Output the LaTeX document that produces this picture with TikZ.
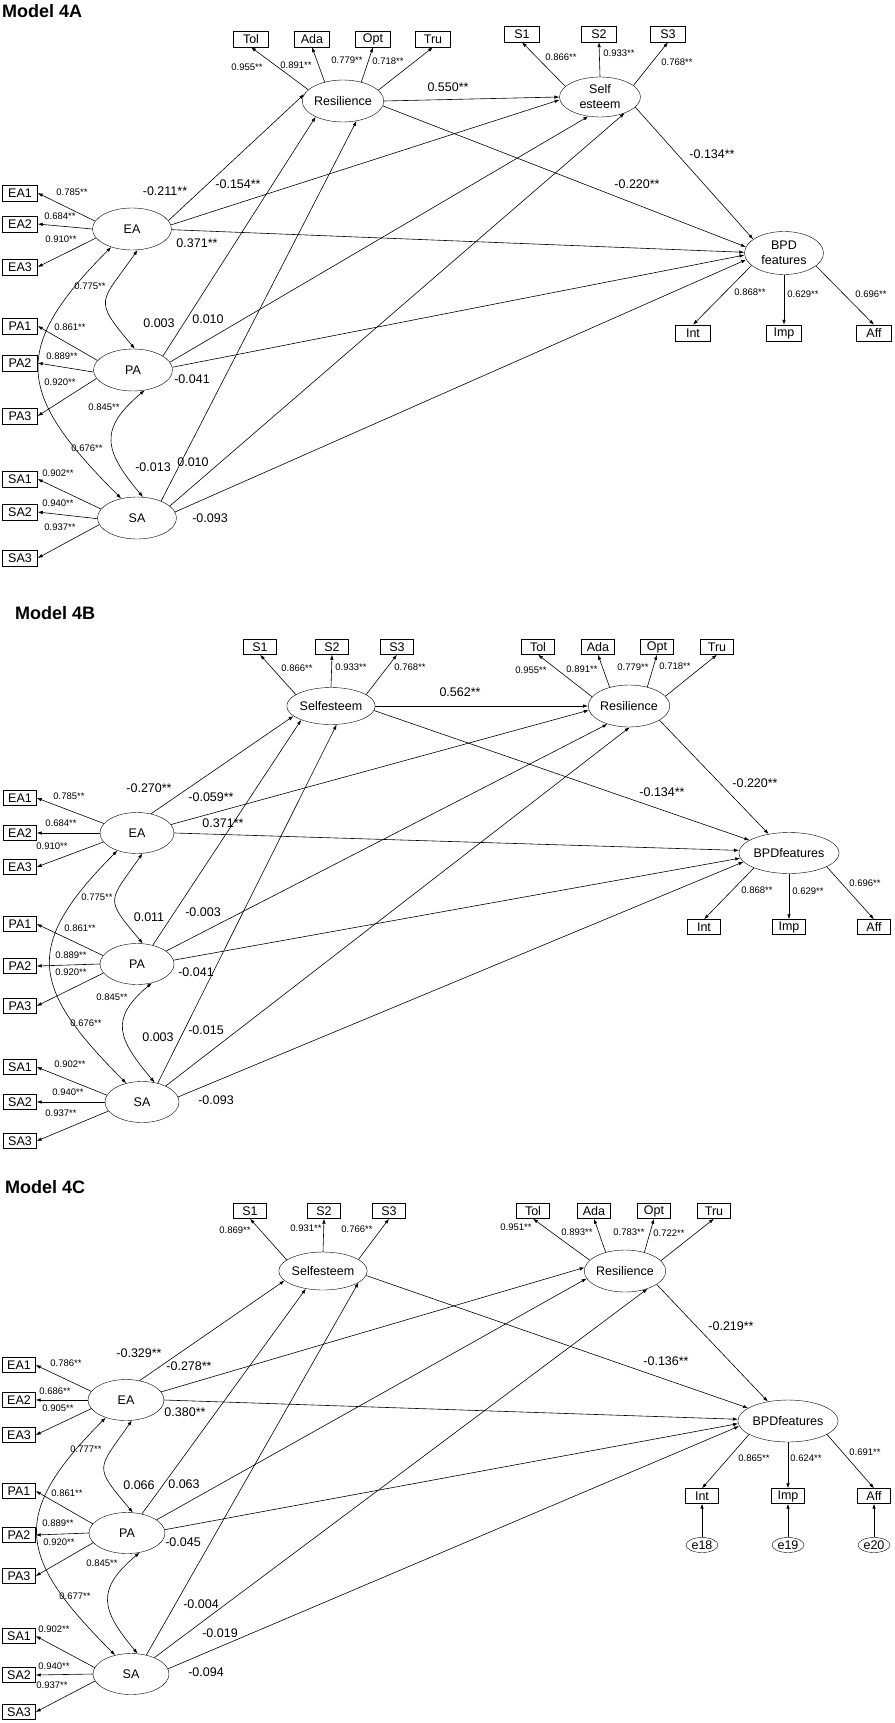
\documentclass[tikz,border=0pt]{standalone}
\usepackage{fontspec}
\setmainfont{Liberation Sans}
\usetikzlibrary{arrows.meta,shapes.geometric,positioning}

\tikzset{
  lat/.style={ellipse, draw, inner sep=0pt, minimum width=76pt, minimum height=41pt, align=center, font=\fontsize{12.5}{15}\selectfont},
  obs/.style={rectangle, draw, inner sep=0pt, minimum width=33pt, minimum height=15pt, font=\fontsize{12.5}{13}\selectfont},
  err/.style={ellipse, draw, inner sep=0pt, minimum width=32pt, minimum height=15pt, font=\fontsize{12.5}{13}\selectfont},
  coef/.style={inner sep=0pt, font=\fontsize{12.5}{13}\selectfont},
  load/.style={inner sep=0pt, font=\fontsize{9.5}{10}\selectfont},
  ttl/.style={anchor=west, inner sep=0pt, font=\fontsize{18}{20}\selectfont\bfseries},
  reg/.style={-{Latex[length=5pt,width=3.5pt]}, line width=0.6pt},
  cov/.style={{Latex[length=5pt,width=3.5pt]}-{Latex[length=5pt,width=3.5pt]}, line width=0.6pt}
}

\begin{document}
\begin{tikzpicture}[x=1pt,y=-1pt]
\useasboundingbox (0,0) rectangle (894,1723);

% ---------- Model 4A ----------
\node[ttl] (ttlA) at (2,11) {Model 4A};

\node[lat, minimum width=80pt, minimum height=42pt] (aRes) at (343,101) {Resilience};
\node[lat, minimum width=81pt, minimum height=40pt] (aSelf) at (600,97) {Self\\esteem};
\node[lat, minimum width=79pt, minimum height=43pt] (aBPD) at (784,253) {BPD\\features};
\node[lat, minimum width=79pt, minimum height=42pt] (aEA) at (132,229) {EA};
\node[lat, minimum width=79pt, minimum height=42pt] (aPA) at (133,370) {PA};
\node[lat, minimum width=79pt, minimum height=42pt] (aSA) at (137,518) {SA};

\foreach \n/\x in {Tol/251, Ada/312, Opt/373, Tru/433}
  \node[obs, minimum width=35pt, minimum height=16pt] (a\n) at (\x,39) {\n};
\foreach \n/\x in {S1/522, S2/599, S3/668}
  \node[obs, minimum width=35pt, minimum height=16pt] (a\n) at (\x,34) {\n};
\foreach \n/\x in {Int/693, Imp/784, Aff/874}
  \node[obs, minimum width=35pt, minimum height=16pt] (a\n) at (\x,333) {\n};
\foreach \n/\y in {EA1/193, EA2/224, EA3/267, PA1/326, PA2/363, PA3/416, SA1/479, SA2/512, SA3/558}
  \node[obs, minimum width=35pt, minimum height=16pt] (a\n) at (20,\y) {\n};

% loadings
\foreach \n/\a in {Tol/162, Ada/134, Opt/46, Tru/17}
  \draw[reg] (aRes.\a) -- (a\n.south);
\foreach \n/\a in {S1/163, S2/90, S3/19}
  \draw[reg] (aSelf.\a) -- (a\n.south);
\foreach \n/\a in {Int/201, Imp/270, Aff/338}
  \draw[reg] (aBPD.\a) -- (a\n.north);
\foreach \n/\a in {EA1/168, EA2/180, EA3/194}
  \draw[reg] (aEA.\a) -- (a\n.east);
\foreach \n/\a in {PA1/165, PA2/183, PA3/193}
  \draw[reg] (aPA.\a) -- (a\n.east);
\foreach \n/\a in {SA1/166, SA2/181, SA3/190}
  \draw[reg] (aSA.\a) -- (a\n.east);

% paths
\draw[reg] (aEA.13) -- (aRes.170);
\draw[reg] (aEA.6) -- (aSelf.184);
\draw[reg] (aEA.359) -- (aBPD.179);
\draw[reg] (aPA.25) -- (aRes.210);
\draw[reg] (aPA.12) -- (aSelf.239);
\draw[reg] (aPA.4) -- (aBPD.183);
\draw[reg] (aSA.35) -- (aRes.304);
\draw[reg] (aSA.20) -- (aSelf.327);
\draw[reg] (aSA.9) -- (aBPD.190);
\draw[reg] (aRes.0) -- (aSelf.180);
\draw[reg] (aRes.353) -- (aBPD.171);
\draw[reg] (aSelf.344) -- (aBPD.156);

% covariances
\draw[cov] (aEA.285) to[out=235,in=130,looseness=1.7] (aPA.85);
\draw[cov] (aEA.221) to[out=225,in=135,looseness=1.48] (aSA.129);
\draw[cov] (aPA.300) to[out=220,in=130,looseness=1.45] (aSA.74);

\foreach \x/\y/\lbl [count=\i] in {165/191/-0.211**, 238/184/-0.154**, 197/243/0.371**,
    448/87/0.550**, 637/184/-0.220**, 712/154/-0.134**, 159/323/0.003, 208/319/0.010,
    192/379/-0.041, 153/467/-0.013, 193/462/0.010, 210/518/-0.093}
  \node[coef] (acoef\i) at (\x,\y) {\lbl};
\foreach \x/\y/\lbl [count=\i] in {247/67/0.955**, 296/65/0.891**, 347/60/0.779**, 388/61/0.718**,
    561/57/0.866**, 619/53/0.933**, 677/62/0.768**, 750/292/0.868**, 803/294/0.629**,
    871/294/0.696**, 72/192/0.785**, 60/216/0.684**, 61/239/0.910**, 90/286/0.775**,
    70/327/0.861**, 62/356/0.889**, 60/382/0.920**, 104/407/0.845**, 87/448/0.676**,
    58/473/0.902**, 58/503/0.940**, 60/527/0.937**}
  \node[load] (aload\i) at (\x,\y) {\lbl};

% ---------- Model 4B ----------
\node[ttl] (ttlB) at (15,613) {Model 4B};

\node[lat, minimum width=76pt, minimum height=37pt] (bSelf) at (331,706) {Selfesteem};
\node[lat, minimum width=74pt, minimum height=42pt] (bRes) at (629,706) {Resilience};
\node[lat, minimum width=74pt, minimum height=41pt] (bBPD) at (789,853) {BPDfeatures};
\node[lat, minimum width=74pt, minimum height=41pt] (bEA) at (137,833) {EA};
\node[lat, minimum width=74pt, minimum height=41pt] (bPA) at (137,964) {PA};
\node[lat, minimum width=74pt, minimum height=41pt] (bSA) at (142,1102) {SA};

\foreach \n/\x in {S1/260, S2/332, S3/397}
  \node[obs] (b\n) at (\x,647) {\n};
\foreach \n/\x in {Tol/538, Ada/598, Opt/657, Tru/717}
  \node[obs] (b\n) at (\x,647) {\n};
\foreach \n/\x in {Int/704, Imp/789, Aff/874}
  \node[obs] (b\n) at (\x,927) {\n};
\foreach \n/\y in {EA1/798, EA2/833, EA3/867, PA1/924, PA2/966, PA3/1006, SA1/1067, SA2/1102, SA3/1141}
  \node[obs] (b\n) at (20,\y) {\n};

% loadings
\foreach \n/\a in {S1/162, S2/90, S3/18}
  \draw[reg] (bSelf.\a) -- (b\n.south);
\foreach \n/\a in {Tol/166, Ada/136, Opt/46, Tru/15}
  \draw[reg] (bRes.\a) -- (b\n.south);
\foreach \n/\a in {Int/203, Imp/270, Aff/340}
  \draw[reg] (bBPD.\a) -- (b\n.north);
\foreach \n/\a in {EA1/164, EA2/180, EA3/195}
  \draw[reg] (bEA.\a) -- (b\n.east);
\foreach \n/\a in {PA1/166, PA2/180, PA3/195}
  \draw[reg] (bPA.\a) -- (b\n.east);
\foreach \n/\a in {SA1/169, SA2/180, SA3/195}
  \draw[reg] (bSA.\a) -- (b\n.east);

% paths
\draw[reg] (bEA.54) -- (bSelf.195);
\draw[reg] (bEA.14) -- (bRes.186);
\draw[reg] (bEA.0) -- (bBPD.177);
\draw[reg] (bPA.50) -- (bSelf.205);
\draw[reg] (bPA.24) -- (bRes.220);
\draw[reg] (bPA.6) -- (bBPD.186);
\draw[reg] (bSA.50) -- (bSelf.287);
\draw[reg] (bSA.34) -- (bRes.272);
\draw[reg] (bSA.8) -- (bBPD.191);
\draw[reg] (bSelf.0) -- (bRes.180);
\draw[reg] (bSelf.354) -- (bBPD.162);
\draw[reg] (bRes.335) -- (bBPD.137);

% covariances
\draw[cov] (bEA.285) to[out=235,in=130,looseness=1.7] (bPA.74);
\draw[cov] (bEA.222) to[out=225,in=135,looseness=1.48] (bSA.130);
\draw[cov] (bPA.308) to[out=220,in=130,looseness=1.45] (bSA.57);

\foreach \x/\y/\lbl [count=\i] in {149/788/-0.270**, 211/797/-0.059**, 223/823/0.371**,
    460/692/0.562**, 662/792/-0.134**, 755/783/-0.220**, 149/917/0.011, 203/912/-0.003,
    196/972/-0.041, 158/1037/0.003, 206/1030/-0.015, 216/1100/-0.093}
  \node[coef] (bcoef\i) at (\x,\y) {\lbl};
\foreach \x/\y/\lbl [count=\i] in {297/668/0.866**, 351/667/0.933**, 410/667/0.768**,
    531/670/0.955**, 582/669/0.891**, 633/667/0.779**, 675/666/0.718**, 757/890/0.868**,
    808/891/0.629**, 865/883/0.696**, 69/796/0.785**, 61/823/0.684**, 52/846/0.910**,
    97/897/0.775**, 80/928/0.861**, 71/955/0.889**, 71/972/0.920**, 112/997/0.845**,
    86/1023/0.676**, 70/1064/0.902**, 68/1092/0.940**, 61/1113/0.937**}
  \node[load] (bload\i) at (\x,\y) {\lbl};

% ---------- Model 4C ----------
\node[ttl] (ttlC) at (5,1187) {Model 4C};

\node[lat, minimum width=77pt, minimum height=38pt] (cSelf) at (323,1271) {Selfesteem};
\node[lat, minimum width=74pt, minimum height=42pt] (cRes) at (625,1271) {Resilience};
\node[lat, minimum width=75pt, minimum height=42pt] (cBPD) at (788,1421) {BPDfeatures};
\node[lat] (cEA) at (126,1400) {EA};
\node[lat] (cPA) at (127,1533) {PA};
\node[lat] (cSA) at (131,1674) {SA};

\foreach \n/\x in {S1/250, S2/324, S3/389}
  \node[obs] (c\n) at (\x,1211) {\n};
\foreach \n/\x in {Tol/533, Ada/594, Opt/654, Tru/714}
  \node[obs] (c\n) at (\x,1211) {\n};
\foreach \n/\x in {Int/702, Imp/788, Aff/874}
  \node[obs] (c\n) at (\x,1496) {\n};
\foreach \n/\x in {18/702, 19/788, 20/874}
  \node[err] (ce\n) at (\x,1545) {e\n};
\foreach \n/\y in {EA1/1365, EA2/1400, EA3/1435, PA1/1491, PA2/1535, PA3/1576, SA1/1636, SA2/1675, SA3/1712}
  \node[obs] (c\n) at (19,\y) {\n};

% loadings
\foreach \n/\a in {S1/163, S2/90, S3/18}
  \draw[reg] (cSelf.\a) -- (c\n.south);
\foreach \n/\a in {Tol/163, Ada/136, Opt/44, Tru/16}
  \draw[reg] (cRes.\a) -- (c\n.south);
\foreach \n/\a in {Int/199, Imp/270, Aff/341}
  \draw[reg] (cBPD.\a) -- (c\n.north);
\draw[reg] (ce18) -- (cInt);
\draw[reg] (ce19) -- (cImp);
\draw[reg] (ce20) -- (cAff);
\foreach \n/\a in {EA1/166, EA2/180, EA3/194}
  \draw[reg] (cEA.\a) -- (c\n.east);
\foreach \n/\a in {PA1/165, PA2/180, PA3/196}
  \draw[reg] (cPA.\a) -- (c\n.east);
\foreach \n/\a in {SA1/170, SA2/180, SA3/191}
  \draw[reg] (cSA.\a) -- (c\n.east);

% paths
\draw[reg] (cEA.55) -- (cSelf.194);
\draw[reg] (cEA.13) -- (cRes.175);
\draw[reg] (cEA.0) -- (cBPD.178);
\draw[reg] (cPA.52) -- (cSelf.226);
\draw[reg] (cPA.24) -- (cRes.191);
\draw[reg] (cPA.5) -- (cBPD.183);
\draw[reg] (cSA.51) -- (cSelf.342);
\draw[reg] (cSA.35) -- (cRes.322);
\draw[reg] (cSA.8) -- (cBPD.186);
\draw[reg] (cSelf.354) -- (cBPD.162);
\draw[reg] (cRes.337) -- (cBPD.136);

% covariances
\draw[cov] (cEA.286) to[out=235,in=130,looseness=1.7] (cPA.74);
\draw[cov] (cEA.221) to[out=225,in=135,looseness=1.48] (cSA.130);
\draw[cov] (cPA.303) to[out=220,in=130,looseness=1.45] (cSA.72);

\foreach \x/\y/\lbl [count=\i] in {139/1353/-0.329**, 189/1366/-0.278**, 185/1412/0.380**,
    666/1361/-0.136**, 731/1326/-0.219**, 139/1485/0.066, 184/1484/0.063, 183/1542/-0.045,
    201/1604/-0.004, 220/1633/-0.019, 206/1672/-0.094}
  \node[coef] (ccoef\i) at (\x,\y) {\lbl};
\foreach \x/\y/\lbl [count=\i] in {235/1230/0.869**, 306/1228/0.931**, 357/1229/0.766**,
    516/1227/0.951**, 577/1232/0.893**, 629/1232/0.783**, 669/1233/0.722**, 754/1458/0.865**,
    806/1458/0.624**, 865/1452/0.691**, 66/1363/0.786**, 55/1391/0.686**, 58/1408/0.905**,
    86/1449/0.777**, 67/1493/0.861**, 58/1523/0.889**, 59/1542/0.920**, 102/1563/0.845**,
    75/1596/0.677**, 54/1629/0.902**, 54/1666/0.940**, 52/1685/0.937**}
  \node[load] (cload\i) at (\x,\y) {\lbl};

\end{tikzpicture}
\end{document}
